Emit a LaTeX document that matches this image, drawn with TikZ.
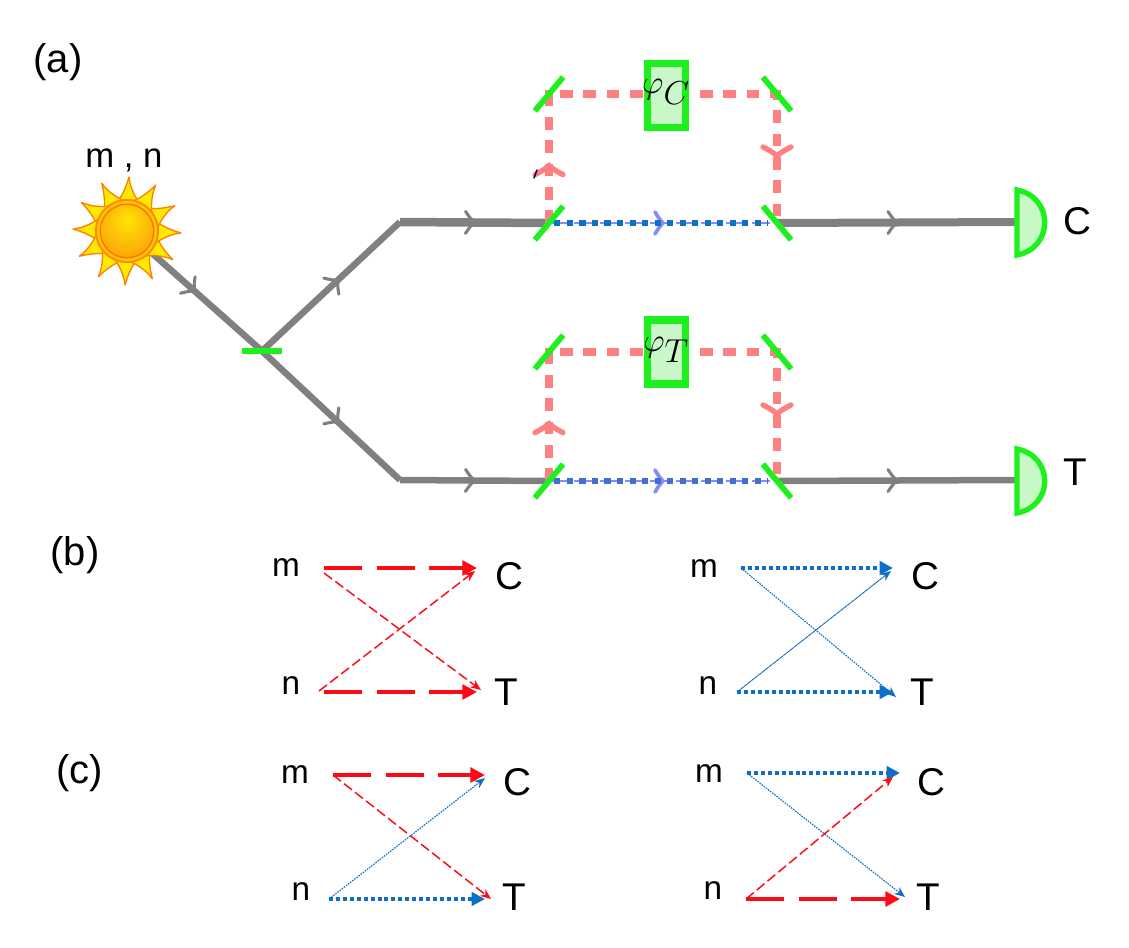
\documentclass[tikz,border=0pt]{standalone}
\usepackage{fontspec}
\setmainfont{Liberation Sans}
\usetikzlibrary{arrows.meta,decorations.markings,calc}
\definecolor{beamgray}{HTML}{808080}
\definecolor{optgreen}{HTML}{1EF01E}
\definecolor{glass}{HTML}{C8F7C8}
\definecolor{pathpink}{HTML}{FF8080}
\definecolor{pathblue}{HTML}{0F6FC6}
\definecolor{pathindigo}{HTML}{3F6FD0}
\definecolor{pathviolet}{HTML}{8A8AF8}
\definecolor{pathred}{HTML}{FF0A14}
\pgfdeclareradialshading{sunball}{\pgfpoint{0bp}{12bp}}{
  rgb(0bp)=(1,0.90,0.02);rgb(12bp)=(1,0.80,0.02);rgb(34bp)=(0.98,0.62,0.04);rgb(50bp)=(0.96,0.56,0.06)}
% Open arrowhead placed along a path: colour, half width, length, stroke
\newcommand{\chevron}[4]{\draw[#1,solid,line width=#4,line cap=round,fill=none]
  (-#3,-#2) .. controls (-#3*0.45,-#2*0.35) .. (0,0)
  .. controls (-#3*0.45,#2*0.35) .. (-#3,#2);}
\tikzset{
  x=0.75pt,y=-0.75pt,
  lab/.style={inner sep=0pt,font=\fontsize{#1}{#1}\selectfont},
  beam/.style={draw=beamgray,line width=#1*0.75pt},
  barb/.style={postaction={decorate,decoration={markings,
    mark=at position #1 with {\chevron{beamgray}{11}{9}{2.3pt}}}}},
  pinkpath/.style={draw=pathpink,line width=6pt,dash pattern=on 9.5pt off 8pt},
  pinkbarb/.style={postaction={decorate,decoration={markings,
    mark=at position #1 with {\chevron{pathpink}{14}{9}{4pt}}}}},
  bluepath/.style={line width=4.6pt,dash pattern=on 4.6pt off 4.8pt},
  ghost/.style={draw=pathviolet,line width=1.5pt,dash pattern=on 14pt off 5pt},
  violetbarb/.style={postaction={decorate,decoration={markings,
    mark=at position 0.5 with {\chevron{pathviolet}{11}{8}{2.8pt}}}}},
  mirror/.style={rectangle,minimum width=33pt,minimum height=3.8pt,inner sep=0pt,outer sep=0pt},
  mirrorbar/.style={draw=optgreen,line width=4.3pt},
  phasebox/.style={rectangle,draw=optgreen,fill=glass,line width=5.4pt,minimum width=28pt,minimum height=48pt,inner sep=0pt},
  detector/.style={draw=optgreen,fill=glass,line width=4pt},
  redthick/.style={draw=pathred,line width=3.2pt,dash pattern=on 28.5pt off 11pt,
    -{Triangle[length=11pt,width=11pt]}},
  redthin/.style={draw=pathred,line width=1.1pt,dash pattern=on 7.5pt off 3pt,
    -{Stealth[length=8pt,width=6.5pt]}},
  bluethick/.style={draw=pathblue,line width=2.8pt,dash pattern=on 3pt off 2.2pt,
    -{Triangle[length=10pt,width=10pt]}},
  bluethin/.style={draw=pathblue,line width=0.85pt,dash pattern=on 1.2pt off 0.8pt,
    -{Stealth[length=8pt,width=6.5pt]}},
}
\begin{document}
\begin{tikzpicture}
\useasboundingbox (0,0) rectangle (1129,947);
\fill[white] (0,0) rectangle (1129,947);

% Beam junctions and free ends
\coordinate (src) at (127,231);
\coordinate (upbend) at (400,222);
\coordinate (lowbend) at (400,480);
\coordinate (detC) at (1017,222);
\coordinate (detT) at (1017,480);

% Anchors of the optical elements
\node[mirror,minimum width=30pt] (split) at (262,351) {};
\node[mirror,rotate=50] (uBL) at (549,223) {};
\node[mirror,rotate=50] (uTL) at (549,94) {};
\node[mirror,rotate=-50] (uTR) at (777,94) {};
\node[mirror,rotate=-50] (uBR) at (777,223) {};
\node[mirror,rotate=50] (lBL) at (549,481) {};
\node[mirror,rotate=50] (lTL) at (549,352) {};
\node[mirror,rotate=-50] (lTR) at (777,352) {};
\node[mirror,rotate=-50] (lBR) at (777,481) {};

% Gray beams
\draw[beam=6.5,barb=0.5] (src) -- (split.center);
\draw[beam=6.5,barb=0.55] (split.center) -- (upbend);
\draw[beam=6.5,barb=0.55] (split.center) -- (lowbend);
\draw[beam=8.5,barb=0.5] (upbend) -- (uBL.center);
\draw[beam=6.5,barb=0.5] (lowbend) -- (lBL.center);
\draw[beam=8,barb=0.5] (uBR.center) -- (detC);
\draw[beam=6.5,barb=0.5] (lBR.center) -- (detT);

% Interferometer arms
\draw[pinkpath,pinkbarb=0.118,pinkbarb=0.862] (uBL.center) -- (uTL.center) -- (uTR.center) -- (uBR.center);
\draw[pinkpath,pinkbarb=0.118,pinkbarb=0.862] (lBL.center) -- (lTL.center) -- (lTR.center) -- (lBR.center);
\draw[ghost,violetbarb] (uBL.center) -- (uBR.center);
\draw[ghost,violetbarb] (lBL.center) -- (lBR.center);
\draw[bluepath,draw=pathblue,shorten <=4pt,shorten >=7pt] (uBL.center) -- (uBR.center);
\draw[bluepath,draw=pathindigo,shorten <=4pt,shorten >=7pt] (lBL.center) -- (lBR.center);

% Mirrors above the beams
\foreach \m in {split,uBL,uTL,uTR,uBR,lBL,lTL,lTR,lBR}
  \draw[mirrorbar] (\m.west) -- (\m.east);

% Small pen mark beside the upper arm
\draw[draw=black!70!blue,line width=1.1pt,line cap=round] (534,178) -- (537,170);

% Phase shifters
\node[phasebox] (phiC) at (666.5,95.5) {};
\node[phasebox] (phiT) at (666.5,352) {};
\node at (666,92) {\fontsize{38}{38}\selectfont$\varphi_{C}$};
\node at (666,350) {\fontsize{38}{38}\selectfont$\varphi_{T}$};

% Detectors
\draw[detector] (1017,190) .. controls (1054,197) and (1054,248) .. (1017,255) -- cycle;
\draw[detector] (1017,449) .. controls (1054,456) and (1054,506) .. (1017,513) -- cycle;

% Sun
\foreach \a in {0,30,...,330}{
  \begin{scope}[shift={(127,231)},rotate=\a]
    \filldraw[fill=yellow!92!orange,draw=orange!90!red!90!yellow,line width=1pt,line join=round]
      (-11,-28) .. controls (-5,-34) and (-1,-44) .. (2,-54)
      .. controls (3,-44) and (7,-36) .. (13,-27) -- cycle;
  \end{scope}
}
\fill[orange!92!yellow] (src) circle[radius=32];
\fill[yellow!60!orange] (src) circle[radius=30];
\fill[orange!85!red!95!yellow] (src) circle[radius=27.5];
\shade[shading=sunball] (src) circle[radius=26];

% Panel (a) labels
\node[lab=30] (labA) at (58,62) {(a)};
\node[lab=26] (labMN) at (124,160) {m , n};
\node[lab=29] (labC) at (1077,221) {C};
\node[lab=29] (labT) at (1075,472) {T};

% Panel (b), red pair
\node[lab=30] (labBb) at (75,555) {(b)};
\node[lab=25] (bm1) at (286,568) {m};
\node[lab=25] (bn1) at (291,686) {n};
\node[lab=29] (bC1) at (509,576) {C};
\node[lab=29] (bT1) at (506,692) {T};
\coordinate (bm1s) at (324,568); \coordinate (bm1t) at (324,573);
\coordinate (bn1s) at (324,692); \coordinate (bn1t) at (319,691);
\coordinate (bC1a) at (477,568); \coordinate (bC1b) at (475,571);
\coordinate (bT1a) at (477,692); \coordinate (bT1b) at (481,690);
\draw[redthick] (bm1s) -- (bC1a);
\draw[redthick] (bn1s) -- (bT1a);
\draw[redthin] (bm1t) -- (bT1b);
\draw[redthin] (bn1t) -- (bC1b);

% Panel (b), blue pair
\node[lab=25] (bm2) at (704,569) {m};
\node[lab=25] (bn2) at (708,686) {n};
\node[lab=29] (bC2) at (925,576) {C};
\node[lab=29] (bT2) at (922,692) {T};
\coordinate (bm2s) at (741,568); \coordinate (bn2s) at (737,692);
\coordinate (bC2a) at (893,568); \coordinate (bC2b) at (891,571);
\coordinate (bT2a) at (893,692); \coordinate (bT2b) at (896,697);
\draw[bluethick] (bm2s) -- (bC2a);
\draw[bluethick] (bn2s) -- (bT2a);
\draw[bluethin] (bm2s) -- (bT2b);
\draw[bluethin,line width=0.7pt,dash pattern=on 3pt off 0.4pt] (bn2s) -- (bC2b);

% Panel (c), left
\node[lab=30] (labCc) at (80,773) {(c)};
\node[lab=25] (cm1) at (295,775) {m};
\node[lab=25] (cn1) at (301,892) {n};
\node[lab=29] (cC1) at (517,782) {C};
\node[lab=29] (cT1) at (514,897) {T};
\coordinate (cm1s) at (333,775); \coordinate (cn1s) at (329,899);
\coordinate (cC1a) at (485,775); \coordinate (cC1b) at (485,778);
\coordinate (cT1a) at (485,899); \coordinate (cT1b) at (491,899);
\draw[redthick] (cm1s) -- (cC1a);
\draw[redthin] (cm1s) -- (cT1b);
\draw[bluethick] (cn1s) -- (cT1a);
\draw[bluethin] (cn1s) -- (cC1b);

% Panel (c), right
\node[lab=25] (cm2) at (709,774) {m};
\node[lab=25] (cn2) at (713,891) {n};
\node[lab=29] (cC2) at (931,782) {C};
\node[lab=29] (cT2) at (928,897) {T};
\coordinate (cm2s) at (747,773); \coordinate (cn2s) at (746,899);
\coordinate (cC2a) at (900,773); \coordinate (cC2b) at (893,777);
\coordinate (cT2a) at (900,899); \coordinate (cT2b) at (905,897);
\draw[bluethick] (cm2s) -- (cC2a);
\draw[bluethin] (cm2s) -- (cT2b);
\draw[redthick] (cn2s) -- (cT2a);
\draw[redthin] (cn2s) -- (cC2b);
\end{tikzpicture}
\end{document}
